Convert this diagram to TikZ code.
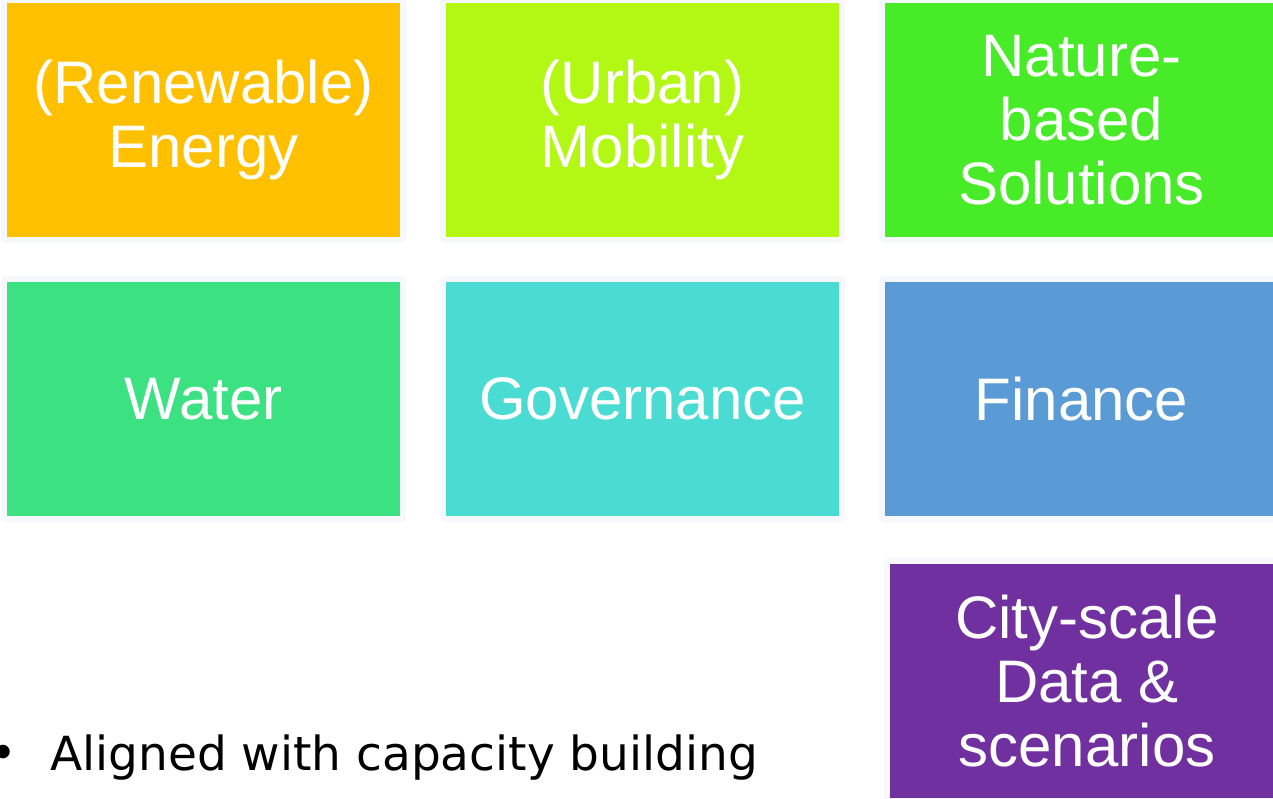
\documentclass[tikz,border=0pt]{standalone}
\usepackage{fontspec}
\setmainfont{Liberation Sans}
\newfontfamily\bodyfont{DejaVu Sans}
\definecolor{halo}{RGB}{247,248,254}
\definecolor{cEnergy}{RGB}{255,192,0}
\definecolor{cMobility}{RGB}{178,248,20}
\definecolor{cNature}{RGB}{72,235,40}
\definecolor{cWater}{RGB}{60,226,130}
\definecolor{cGov}{RGB}{74,220,210}
\definecolor{cFinance}{RGB}{91,155,213}
\definecolor{cData}{RGB}{112,48,160}
\tikzset{
  boxtext/.style={text=white, align=center, font=\fontsize{60}{64}\selectfont, inner sep=0pt},
  bodytext/.style={inner sep=0pt, font=\bodyfont\fontsize{47}{56}\selectfont},
}
\newcommand{\tile}[6]{% name, x1, y1, x2, y2, color
  \fill[halo, rounded corners=5pt] (#2-6,#3-6) rectangle (#4+6,#5+6);
  \fill[#6] (#2,#3) rectangle (#4,#5);
  \coordinate (#1) at ({(#2+#4)/2},{(#3+#5)/2});
}
\begin{document}
\begin{tikzpicture}[x=1pt,y=-1pt]
\useasboundingbox (0,0) rectangle (1273,798);
\clip (0,0) rectangle (1273,798);
\fill[white] (0,0) rectangle (1273,798);
\tile{energy}{7}{3}{400}{237}{cEnergy}
\tile{mobility}{446}{3}{839}{237}{cMobility}
\tile{nature}{885}{3}{1278}{237}{cNature}
\tile{water}{7}{282}{400}{516}{cWater}
\tile{gov}{446}{282}{839}{516}{cGov}
\tile{finance}{885}{282}{1278}{516}{cFinance}
\tile{data}{890}{564}{1284}{798}{cData}
\node[boxtext] (tEnergy) at (energy) {(Renewable)\\Energy};
\node[boxtext] (tMobility) at (mobility) {(Urban)\\Mobility};
\node[boxtext] (tNature) at (nature) {Nature-\\based\\Solutions};
\node[boxtext] (tWater) at (water) {Water};
\node[boxtext] (tGov) at (gov) {Governance};
\node[boxtext] (tFinance) at (finance) {Finance};
\node[boxtext] (tData) at (data) {City-scale\\Data \&\\scenarios};
\node[bodytext, anchor=base] (bullet) at (3,769) {•};
\node[bodytext, anchor=base west] (aligned) at (50,770) {Aligned with capacity building};
\end{tikzpicture}
\end{document}
